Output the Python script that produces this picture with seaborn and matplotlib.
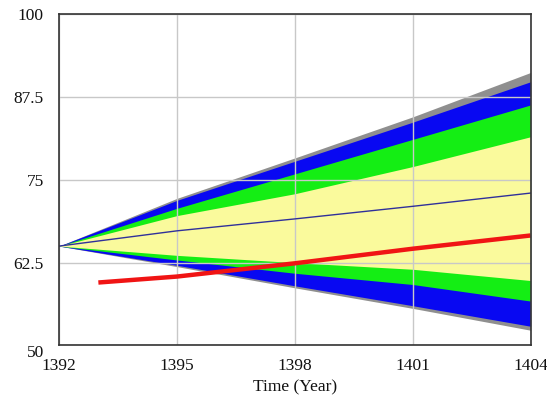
import matplotlib
matplotlib.use("Agg")
import matplotlib.pyplot as plt
import seaborn as sns
import pandas as pd

# ---- data ----
years = [1392, 1395, 1398, 1401, 1404]
gray_hi = [65, 72.2, 78.3, 84.5, 91.2]
blue_hi = [65, 71.9, 77.8, 83.7, 89.8]
green_hi = [65, 70.7, 75.9, 81.1, 86.3]
yellow_hi = [65, 69.6, 72.9, 77.0, 81.5]
mean_line = [65, 67.3, 69.1, 71.0, 73.0]
yellow_lo = [65, 63.6, 62.5, 61.5, 59.8]
green_lo = [65, 62.9, 60.9, 59.2, 56.7]
blue_lo = [65, 62.1, 59.0, 56.0, 52.9]
gray_lo = [65, 61.9, 58.7, 55.6, 52.3]

red_years = [1393, 1395, 1398, 1401, 1404]
red_vals = [59.5, 60.4, 62.4, 64.6, 66.6]

x_ticks = [1392, 1395, 1398, 1401, 1404]
y_ticks = [50, 62.5, 75, 87.5, 100]
y_tick_labels = ["50", "62.5", "75", "87.5", "100"]
x_label = "Time (Year)"

sns.set_theme(style="white")
plt.rcParams['font.family'] = ['Liberation Serif', 'DejaVu Serif']

fig = plt.figure(figsize=(5.47, 4.05), dpi=100)
ax = fig.add_axes([0.108, 0.147, 0.862, 0.818])

bands = [
    (gray_lo, gray_hi, "#8f8f8f"),
    (blue_lo, blue_hi, "#0808f2"),
    (green_lo, green_hi, "#14ee14"),
    (yellow_lo, yellow_hi, "#fafa9c"),
]
for lo, hi, col in bands:
    ax.fill_between(years, lo, hi, color=col, linewidth=0, zorder=1)

df_mean = pd.DataFrame({"year": years, "value": mean_line})
df_red = pd.DataFrame({"year": red_years, "value": red_vals})
sns.lineplot(data=df_mean, x="year", y="value", ax=ax, color="#30309a",
             linewidth=1.0, zorder=4)
sns.lineplot(data=df_red, x="year", y="value", ax=ax, color="#f01414",
             linewidth=3.2, zorder=4, solid_capstyle="butt")

ax.set_xlim(1392, 1404)
ax.set_ylim(50, 100)
ax.set_xticks(x_ticks)
ax.set_xticklabels([str(t) for t in x_ticks])
ax.set_yticks(y_ticks)
ax.set_yticklabels(y_tick_labels)
ax.grid(True, color="#c8c8c8", linewidth=1.0, zorder=2)
ax.set_axisbelow(False)
for line in ax.get_xgridlines() + ax.get_ygridlines():
    line.set_zorder(2)

ax.tick_params(axis="both", length=0, labelsize=12.5, colors="#111111")
ax.tick_params(axis="x", pad=9)
ax.tick_params(axis="y", pad=11)
ax.set_xlabel(x_label, fontsize=12.5, color="#111111", labelpad=4)
ax.set_ylabel("")
ax.get_yticklabels()[0].set_va("top")

for side in ["left", "right", "top", "bottom"]:
    ax.spines[side].set_visible(True)
    ax.spines[side].set_color("#333333")
    ax.spines[side].set_linewidth(1.2)
    ax.spines[side].set_zorder(5)

fig.savefig("out.png", dpi=100, facecolor="white")
